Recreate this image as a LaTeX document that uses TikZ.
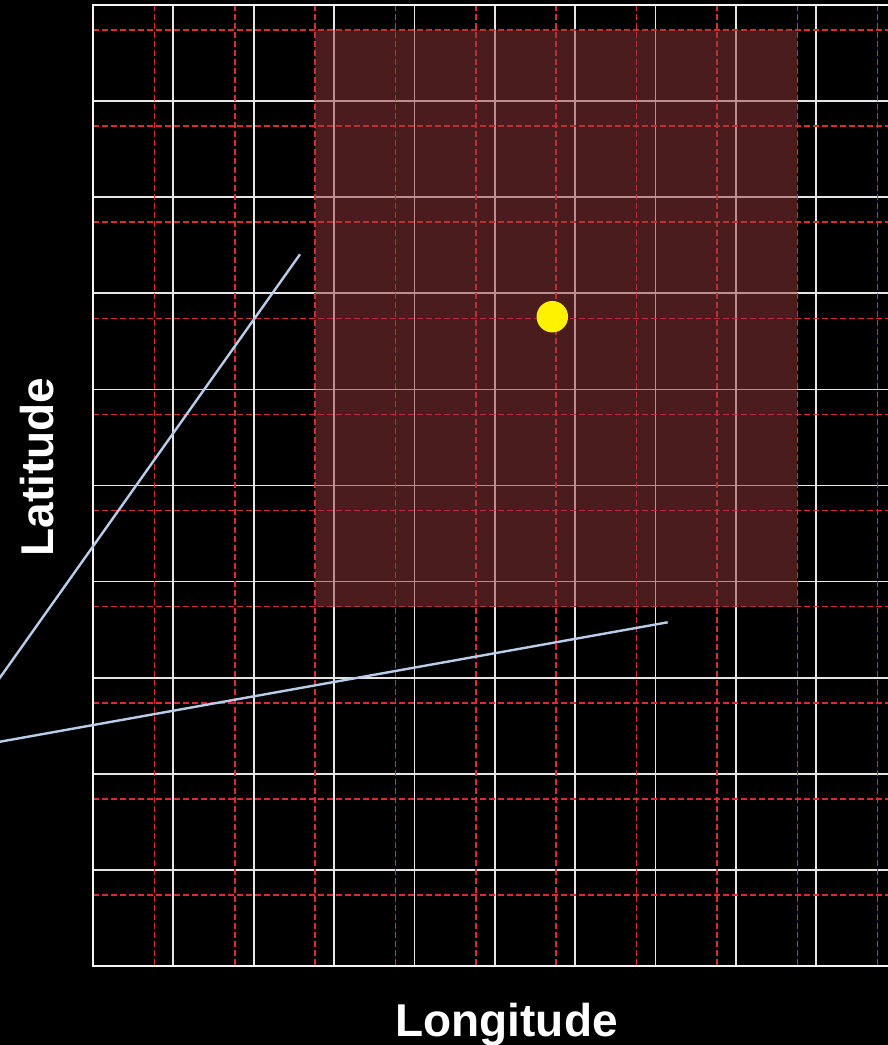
\documentclass[tikz,border=0pt]{standalone}
\usepackage{fontspec}
\setmainfont{Liberation Sans}
\definecolor{gridred}{RGB}{220,45,45}
\definecolor{zonered}{RGB}{150,56,60}
\definecolor{trackblue}{RGB}{185,205,232}

\begin{document}
\begin{tikzpicture}[
    x=0.75pt, y=-0.75pt,
    gridline/.style={draw=white!90!black, line width=1.3pt},
    cellline/.style={draw=gridred, line width=1.2pt, dash pattern=on 4.5pt off 2.25pt},
    framebox/.style={draw=white!96!black, line width=2pt},
    zonebox/.style={fill=zonered, fill opacity=0.5},
    trackline/.style={draw=trackblue, line width=1.8pt},
    target/.style={circle, fill=yellow, minimum size=23.6pt, inner sep=0pt},
    axislabel/.style={text=white, font=\fontsize{34.5}{40}\selectfont\bfseries}
]
% Canvas
\fill[black] (0,0) rectangle (888,1045);
\useasboundingbox (0,0) rectangle (888,1045);

\begin{scope}
\clip (0,0) rectangle (888,1045);

% Coarse grid
\foreach \i in {1,...,9}
    \draw[gridline] ({93+80.35*\i},5) -- ({93+80.35*\i},966);
\foreach \j in {1,...,9}
    \draw[gridline] (93,{5+96.1*\j}) -- (898,{5+96.1*\j});

% Shifted cells
\foreach \i in {0,...,9}
    \draw[cellline] ({154.5+80.35*\i},5) -- ({154.5+80.35*\i},966);
\foreach \j in {0,...,9}
    \draw[cellline] (93,{30+96.1*\j}) -- (898,{30+96.1*\j});

\draw[framebox] (93,5) rectangle (898,966);

% Search zone
\fill[zonebox] (315.2,30) rectangle (797.3,606.6);

% Field of view
\coordinate (apex) at (-52,751);
\coordinate (edgeA) at (300,254.3);
\coordinate (edgeB) at (667.7,622.3);
\draw[trackline] (apex) -- (edgeA);
\draw[trackline] (apex) -- (edgeB);

\node[target] (goal) at (552.3,316.7) {};
\end{scope}

% Axis labels
\node[axislabel, rotate=90, anchor=base] (latlabel) at (53,467) {Latitude};
\node[axislabel, anchor=base] (lonlabel) at (506.5,1036) {Longitude};
\end{tikzpicture}
\end{document}
